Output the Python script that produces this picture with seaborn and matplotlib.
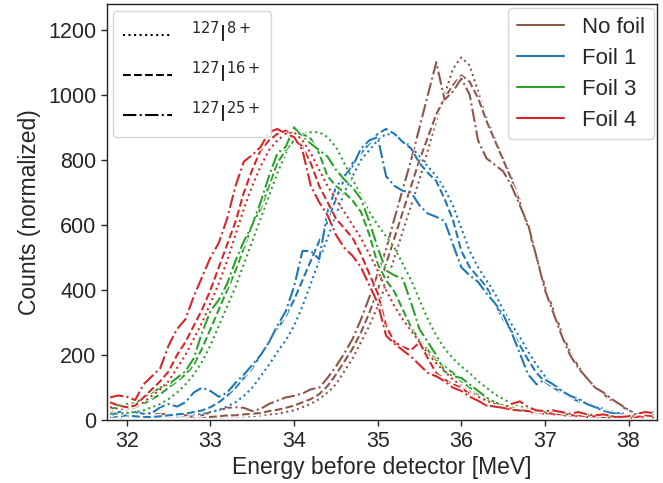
import numpy as np
import pandas as pd
import matplotlib
matplotlib.use("Agg")
import matplotlib.pyplot as plt
import matplotlib.patheffects as pe
from matplotlib.lines import Line2D
import seaborn as sns

# Energy grid [MeV]
energy = [round(31.8 + 0.1 * i, 1) for i in range(66)]

samples = ["No foil", "Foil 1", "Foil 3", "Foil 4"]
ions = ["8+", "16+", "25+"]

# ---- No foil (brown)
nofoil_8 = [10,10,12,10,10,8,8,10,8,8,
            8,10,8,8,10,10,12,12,15,18,
            20,25,30,40,50,65,85,110,150,190,
            240,290,350,420,500,580,660,740,830,920,
            1000,1080,1115,1090,1010,930,865,805,745,675,
            595,505,415,340,270,210,165,128,100,78,
            58,42,30,20,14,10]
nofoil_16 = [15,18,15,12,15,12,10,12,10,10,
             12,10,10,12,15,15,18,20,22,28,
             32,38,45,55,65,80,105,140,180,220,
             270,330,400,480,560,640,720,800,870,940,
             990,1030,1060,1040,990,920,860,800,740,670,
             590,500,410,340,270,210,165,130,100,80,
             60,45,30,20,15,12]
nofoil_25 = [25,25,22,25,22,20,18,20,15,15,
             18,15,25,30,38,40,38,28,35,50,
             60,70,75,82,95,100,130,165,205,250,
             310,378,450,525,620,710,800,900,1000,1100,
             985,1010,1050,1000,860,805,785,765,720,660,
             600,500,400,330,260,200,160,130,100,85,
             65,48,32,15,20,25]

# ---- Foil 1 (blue)
foil1_8 = [8,8,10,10,10,10,10,12,12,15,
           18,20,25,32,42,55,75,100,135,170,
           210,245,290,350,420,490,560,630,700,750,
           800,830,860,880,875,860,840,810,780,750,
           710,660,590,520,470,430,390,340,295,255,
           210,170,135,110,92,78,65,55,45,35,
           28,22,18,15,18,20]
foil1_16 = [10,12,15,12,10,10,12,15,18,20,
            25,30,40,55,75,100,130,160,200,240,
            280,320,370,430,490,550,610,680,740,790,
            820,850,880,895,880,855,835,790,760,735,
            680,615,520,470,440,410,360,310,275,230,
            185,145,118,100,85,70,58,50,40,32,
            25,20,15,15,20,25]
foil1_25 = [15,25,28,25,20,22,40,50,42,55,
            85,100,90,72,85,115,140,170,200,240,
            290,335,410,520,520,495,640,715,750,780,
            835,860,870,750,720,705,700,660,635,625,
            612,540,470,445,425,390,360,325,270,205,
            140,110,125,110,90,75,65,50,40,28,
            22,18,15,18,20,22]

# ---- Foil 3 (green)
foil3_8 = [20,20,22,25,30,40,50,65,85,110,
           140,180,230,290,350,410,480,550,620,690,
           760,820,860,880,885,885,870,840,790,740,
           690,640,600,565,530,480,430,370,310,260,
           220,190,165,145,120,100,80,65,52,42,
           35,30,26,22,20,18,15,14,12,12,
           10,10,10,10,10,10]
foil3_16 = [35,40,45,40,50,65,80,100,120,140,
            170,220,280,340,400,460,530,600,650,720,
            790,830,860,880,865,820,750,720,700,675,
            640,570,480,430,395,340,285,245,215,185,
            165,145,120,100,80,65,50,42,35,30,
            28,25,22,18,16,15,12,12,10,10,
            10,8,8,10,12,10]
foil3_25 = [55,45,50,52,70,85,100,110,130,150,
            190,270,335,370,420,490,550,600,670,750,
            820,840,900,870,850,830,810,770,740,715,
            680,610,530,460,445,435,360,280,240,200,
            150,135,130,110,90,70,55,45,40,32,
            30,28,25,22,20,18,15,15,12,12,
            12,10,10,15,18,15]

# ---- Foil 4 (red)
foil4_8 = [40,35,35,40,55,75,95,120,160,200,
           250,300,360,420,490,570,650,720,780,830,
           860,880,885,860,820,770,720,680,640,600,
           560,510,460,400,350,310,275,240,205,175,
           150,125,105,88,72,60,50,42,36,30,
           26,22,20,18,15,14,12,10,10,9,
           8,8,7,8,10,8]
foil4_16 = [55,45,40,45,70,95,120,150,200,240,
            290,340,400,470,540,610,700,770,830,860,
            880,890,870,840,790,720,670,620,590,560,
            510,450,390,290,240,225,215,240,190,145,
            125,110,100,80,60,45,40,38,32,30,
            28,25,22,20,18,15,15,12,12,10,
            10,10,8,10,15,12]
foil4_25 = [70,76,72,62,110,135,160,230,280,310,
            380,440,500,545,620,720,795,815,840,885,
            895,880,870,830,720,670,630,570,530,505,
            470,415,360,260,235,215,195,170,145,135,
            120,100,90,72,60,45,42,38,50,58,
            40,30,28,30,25,20,25,18,15,18,
            12,10,12,20,25,22]

series = {
    ("No foil", "8+"): nofoil_8, ("No foil", "16+"): nofoil_16, ("No foil", "25+"): nofoil_25,
    ("Foil 1", "8+"): foil1_8, ("Foil 1", "16+"): foil1_16, ("Foil 1", "25+"): foil1_25,
    ("Foil 3", "8+"): foil3_8, ("Foil 3", "16+"): foil3_16, ("Foil 3", "25+"): foil3_25,
    ("Foil 4", "8+"): foil4_8, ("Foil 4", "16+"): foil4_16, ("Foil 4", "25+"): foil4_25,
}

rows = []
for (s, ion), vals in series.items():
    for e, c in zip(energy, vals):
        rows.append({"E": e, "Counts": c, "Sample": s, "Ion": ion})
df = pd.DataFrame(rows)

sns.set_style("ticks")
plt.rcParams["font.family"] = ["Liberation Sans", "DejaVu Sans"]
plt.rcParams["mathtext.fontset"] = "dejavusans"

palette = {"No foil": "#8c564b", "Foil 1": "#1f77b4", "Foil 3": "#2ca02c", "Foil 4": "#d62728"}
dashes = {"8+": (1, 1.65), "16+": (3.7, 1.6), "25+": (6.4, 1.6, 1, 1.6)}

fig = plt.figure(figsize=(6.63, 4.83), dpi=100)
ax = fig.add_axes([0.161, 0.130, 0.830, 0.861])

sns.lineplot(data=df, x="E", y="Counts", hue="Sample", style="Ion",
             hue_order=samples, style_order=ions, palette=palette,
             dashes=dashes, estimator=None, legend=False, lw=1.5, ax=ax)

for ln in ax.lines:
    ln.set_path_effects([pe.Stroke(linewidth=3.5, foreground="white"), pe.Normal()])

ax.set_xlim(31.76, 38.34)
ax.set_ylim(0, 1278)
ax.set_xticks([32, 33, 34, 35, 36, 37, 38])
ax.set_yticks([0, 200, 400, 600, 800, 1000, 1200])
ax.tick_params(labelsize=15.5, direction="out", length=4, width=1)
for sp in ax.spines.values():
    sp.set_visible(True)
    sp.set_color("#222222")
    sp.set_linewidth(1.0)
ax.set_xlabel("Energy before detector [MeV]", fontsize=16.5, labelpad=3)
ax.set_ylabel("Counts (normalized)", fontsize=16.5, labelpad=5)

style_handles = [Line2D([], [], color="k", lw=1.5, ls=(0, dashes[i])) for i in ions]
style_labels = [r"$^{127}\mathrm{I}^{8+}$", r"$^{127}\mathrm{I}^{16+}$", r"$^{127}\mathrm{I}^{25+}$"]
leg1 = ax.legend(style_handles, style_labels, loc="upper left", fontsize=15,
                 labelspacing=0.72, borderaxespad=0.3, handlelength=2.35,
                 handletextpad=0.9, borderpad=0.5)
ax.add_artist(leg1)

color_handles = [Line2D([], [], color=palette[s], lw=1.5) for s in samples]
ax.legend(color_handles, samples, loc="upper right", fontsize=16,
          labelspacing=0.45, borderaxespad=0.15, handlelength=2.1)

fig.savefig("out.png", dpi=100)
